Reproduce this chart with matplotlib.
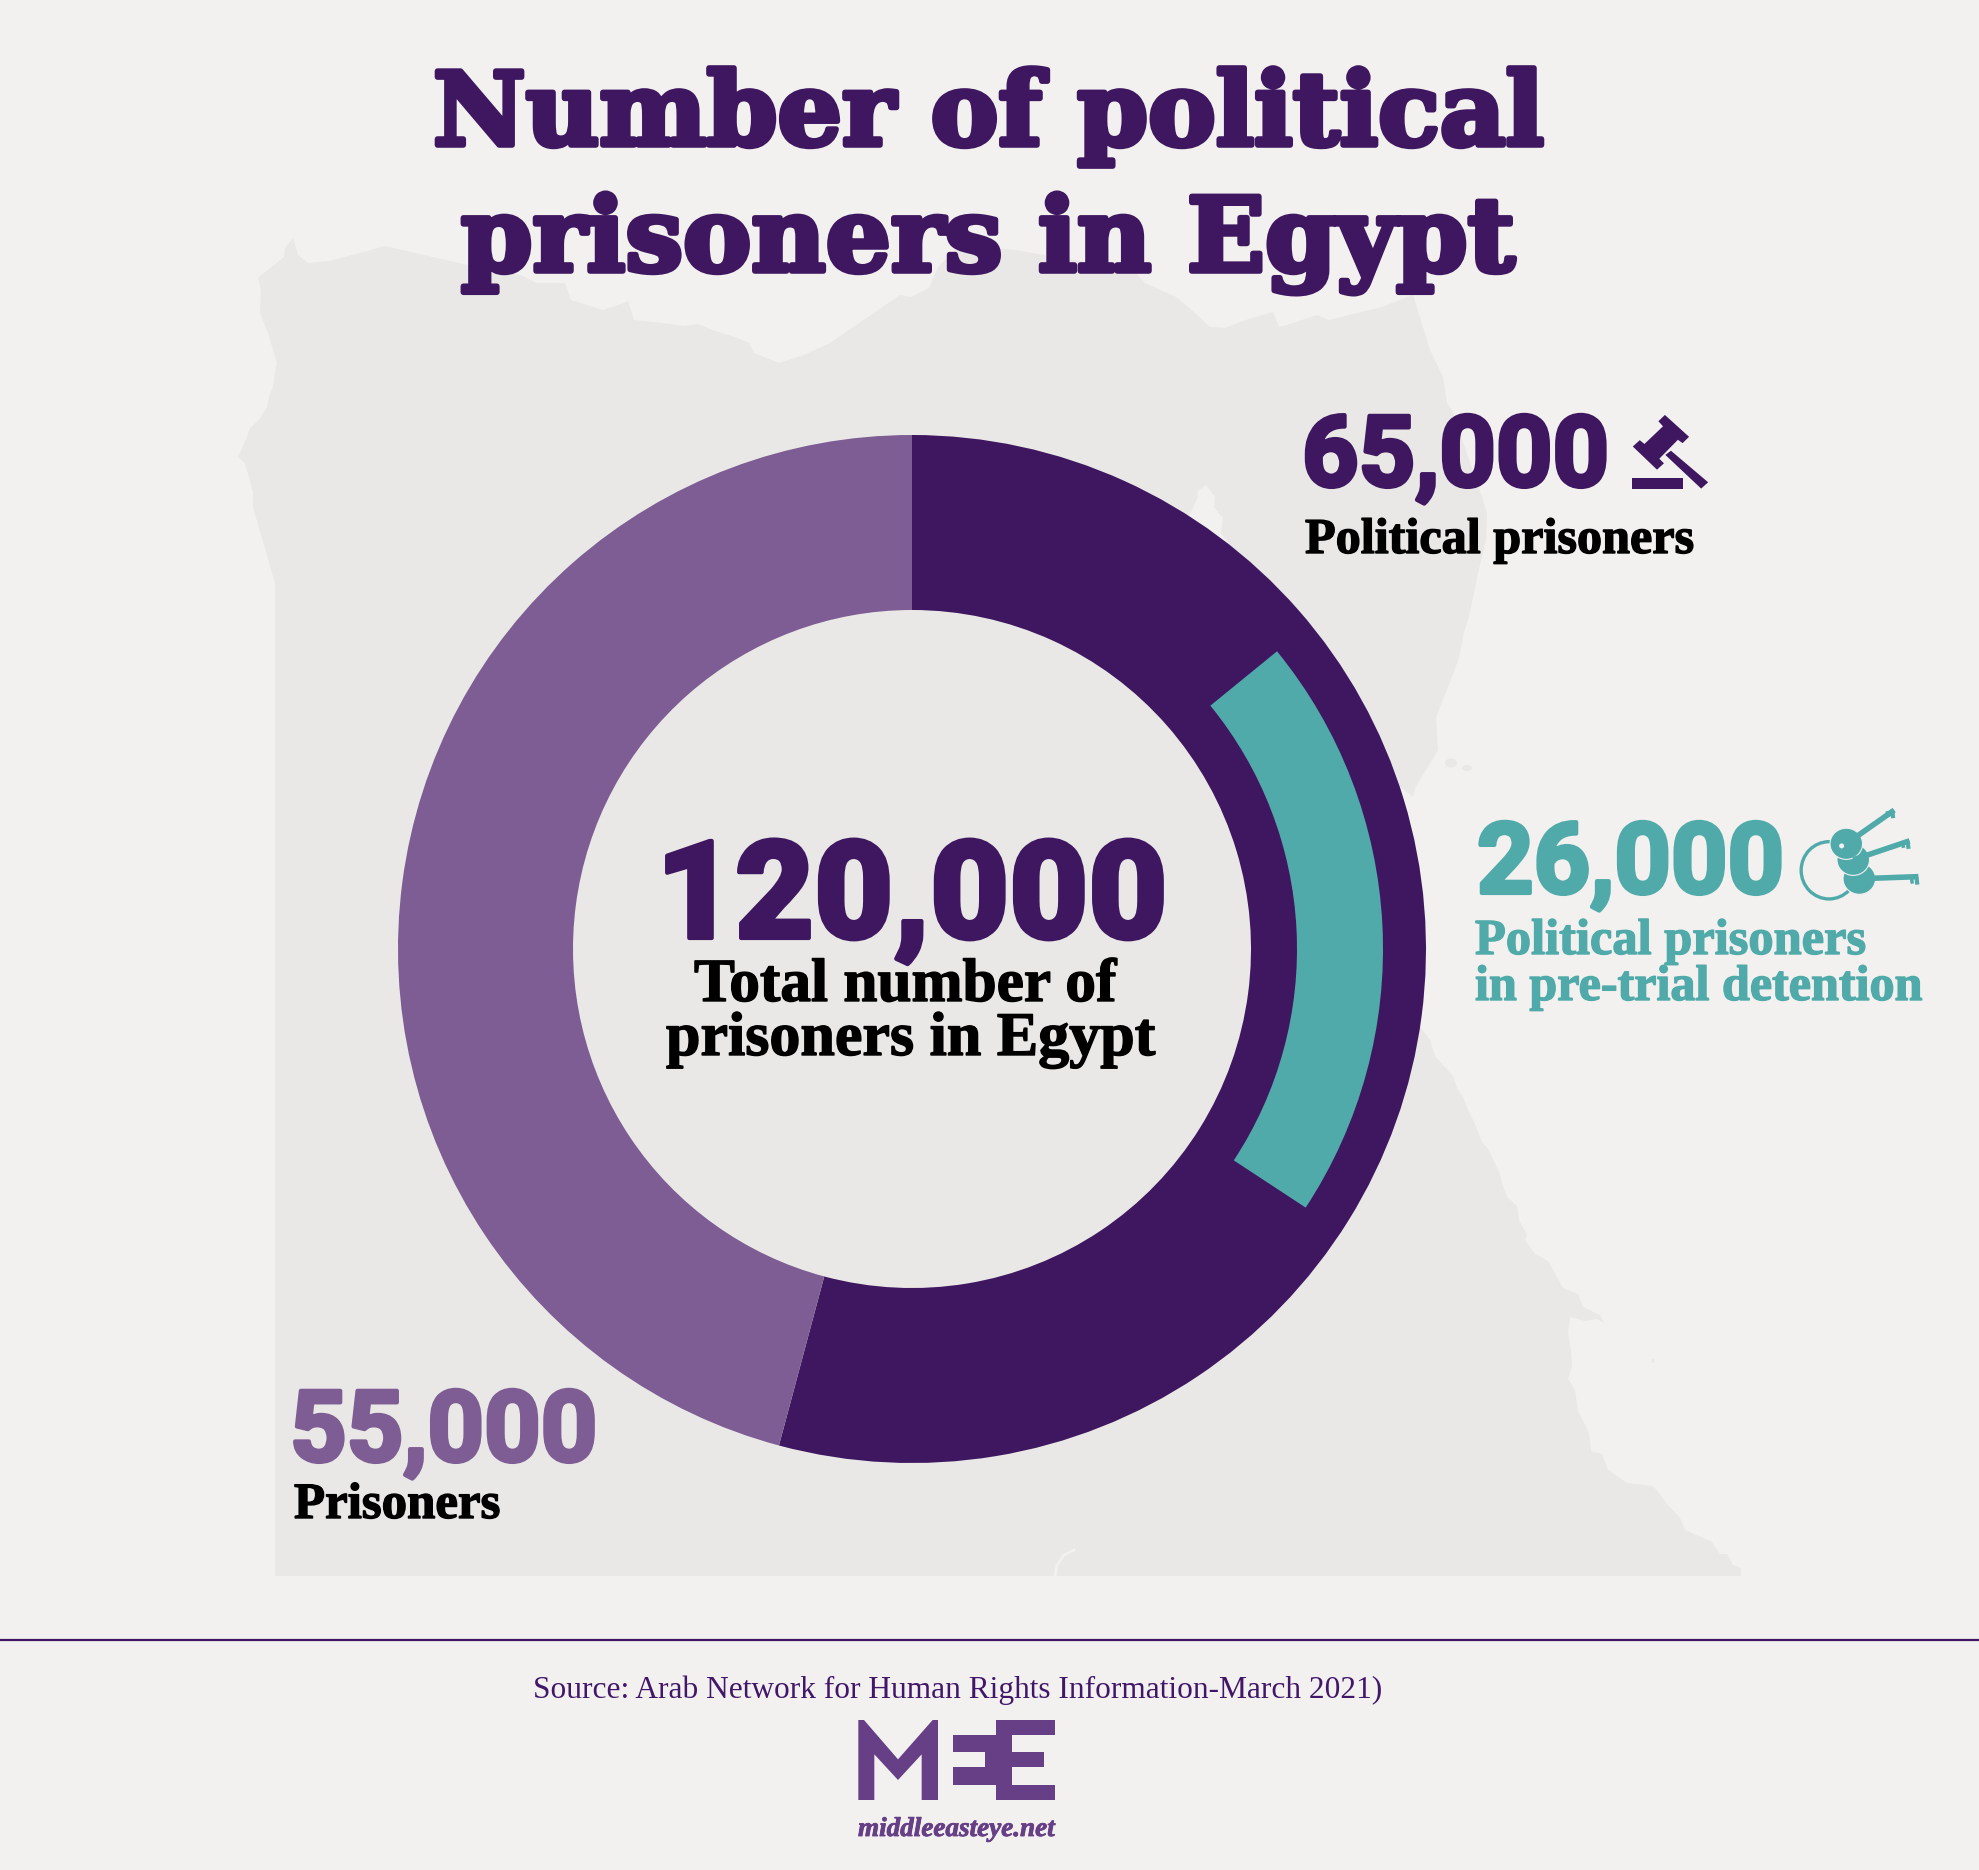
import matplotlib
matplotlib.use('Agg')
import numpy as np
import matplotlib.pyplot as plt
import matplotlib.patheffects as pe
from matplotlib.patches import Polygon, Wedge, Ellipse, Rectangle

W, H = 1979, 1870
BG = '#f2f1ef'
MAP = '#e9e8e6'
PURPLE = '#3f1760'
LILAC = '#7d5d93'
TEAL = '#50aaaa'
LOGO = '#663f86'

# values
ring_labels = ['Political prisoners', 'Prisoners']
ring_values = [65000, 55000]
total = 120000
pretrial = 26000
# where the teal arc sits, degrees clockwise from 12 o'clock
pretrial_start = 50.8
pretrial_end = 123.3

# outline of Egypt in picture pixels
map_outline = [
    (275, 1576), (275, 583), (253, 507), (253, 492), (245, 463), (238, 457), (247, 437), (250, 428), (259, 420),
    (267, 407), (269, 397), (273, 387), (275, 372), (277, 363), (268, 333), (260, 313), (261, 290), (258, 278),
    (284, 257), (285, 248), (293, 238), (298, 255), (308, 263), (329, 261), (360, 253), (385, 246), (437, 258),
    (463, 264), (521, 275), (536, 283), (565, 283), (571, 300), (603, 310), (624, 303), (628, 301), (634, 320),
    (662, 323), (685, 326), (697, 324), (718, 332), (735, 337), (749, 343), (754, 353), (779, 363), (804, 355),
    (830, 343), (900, 295), (911, 297), (929, 288), (938, 267), (960, 245), (1015, 250), (1133, 270), (1145, 283),
    (1176, 297), (1195, 313), (1210, 327), (1225, 328), (1246, 320), (1273, 312), (1279, 327), (1287, 325),
    (1317, 315), (1329, 320), (1382, 307), (1413, 295), (1430, 350), (1443, 377), (1447, 403), (1452, 410),
    (1482, 497), (1487, 513), (1486, 540), (1478, 573), (1474, 593), (1468, 620), (1464, 632), (1459, 658),
    (1448, 687), (1436, 717), (1438, 750), (1415, 788), (1413, 797), (1380, 770), (1325, 700), (1240, 560),
    (1221, 533), (1223, 518), (1214, 507), (1215, 497), (1206, 485), (1197, 492), (1198, 497), (1191, 512),
    (1180, 530), (1300, 800), (1400, 1000), (1430, 1040), (1435, 1056), (1443, 1065), (1453, 1076), (1457, 1088),
    (1463, 1097), (1468, 1110), (1475, 1124), (1482, 1142), (1488, 1149), (1500, 1174), (1502, 1183), (1507, 1197),
    (1517, 1206), (1519, 1220), (1527, 1235), (1525, 1240), (1535, 1254), (1548, 1261), (1563, 1288), (1578, 1294),
    (1583, 1307), (1600, 1315), (1604, 1323), (1597, 1319), (1585, 1321), (1570, 1317), (1568, 1333), (1571, 1351),
    (1572, 1367), (1568, 1379), (1575, 1390), (1578, 1411), (1589, 1433), (1591, 1451), (1602, 1454), (1608, 1470),
    (1627, 1483), (1653, 1486), (1658, 1492), (1667, 1504), (1680, 1518), (1685, 1530), (1703, 1538), (1712, 1542),
    (1720, 1554), (1727, 1554), (1733, 1565), (1741, 1568), (1741, 1576),
]


def zoom1(x, y):
    return 1250 + x / 2.15, 380 + y / 2.376


def zoom3(x, y):
    return 840 + x / 3, 1700 + y / 3


fig = plt.figure(figsize=(W / 100, H / 100), dpi=100, facecolor=BG)

back = fig.add_axes([0, 0, 1, 1], zorder=0)
back.set_xlim(0, W)
back.set_ylim(H, 0)
back.axis('off')
back.add_patch(Polygon(map_outline, closed=True, fc=MAP, ec='none'))
back.add_patch(Ellipse((1451, 763), 12, 9, fc=MAP, ec='none'))
back.add_patch(Ellipse((1467, 768), 10, 6, fc=MAP, ec='none'))
back.add_patch(Ellipse((1653, 1361), 3, 4, fc=MAP, ec='none'))
back.plot([1055, 1057, 1064, 1074], [1576, 1565, 1555, 1550], color=BG, lw=2)
back.plot([1225, 1250, 1273, 1295, 1315], [327, 315, 303, 306, 313], color=BG, lw=1)

# donut
cx, cy, R, r = 912, 949, 514, 339
side = 2 * 1.25 * R
donut = fig.add_axes([(cx - side / 2) / W, (H - cy - side / 2) / H, side / W, side / H], zorder=1)
donut.patch.set_alpha(0)
donut.pie(ring_values, colors=[PURPLE, LILAC], startangle=90, counterclock=False, radius=1,
          wedgeprops={'width': 1 - r / R, 'linewidth': 0})
donut.add_patch(Wedge((0, 0), 471 / R, 90 - pretrial_end, 90 - pretrial_start, width=86 / R, fc=TEAL, ec='none'))

front = fig.add_axes([0, 0, 1, 1], zorder=2)
front.patch.set_alpha(0)
front.set_xlim(0, W)
front.set_ylim(H, 0)
front.axis('off')

renderer = fig.canvas.get_renderer()


def put(s, x0, x1, base, color, family, weight='bold', stroke=0, style='normal'):
    # font size is picked so the string covers the same width as in the reference
    t = front.text(x0, base, s, color=color, family=family, weight=weight, style=style,
                   fontsize=40, ha='left', va='baseline')
    w = t.get_window_extent(renderer).width
    t.set_fontsize(40 * (x1 - x0 - stroke) / w)
    if stroke:
        t.set_path_effects([pe.withStroke(linewidth=stroke, foreground=color)])
    return t


SLAB = ['DejaVu Serif']
LABEL = ['Liberation Serif']
NUM = ['Roboto']

put('Number of political', 433, 1546, 145, PURPLE, SLAB, stroke=4)
put('prisoners in Egypt', 461, 1518, 271, PURPLE, SLAB, stroke=4)

put(f'{total:,}', 656, 1171, 938, PURPLE, NUM, weight='black', stroke=3)
put('Total number of', 694, 1117, 1001, 'black', LABEL, stroke=1)
put('prisoners in Egypt', 666, 1156, 1055, 'black', LABEL, stroke=1)

put(f'{ring_values[0]:,}', 1302, 1612, 486, PURPLE, NUM, stroke=3)
put(ring_labels[0], 1305, 1695, 553, 'black', LABEL, stroke=1)

put(f'{pretrial:,}', 1477, 1787, 893, TEAL, NUM, stroke=3)
put('Political prisoners', 1475, 1867, 954, TEAL, LABEL, stroke=1)
put('in pre-trial detention', 1475, 1923, 1000, TEAL, LABEL, stroke=1)

put(f'{ring_values[1]:,}', 290, 600, 1461, LILAC, NUM, stroke=3)
put(ring_labels[1], 294, 501, 1518, 'black', LABEL, stroke=1)

# footer
front.plot([0, W], [1640, 1640], color=PURPLE, lw=1.6, solid_capstyle='butt')
put('Source: Arab Network for Human Rights Information-March 2021)', 533, 1381, 1698, '#42176a', LABEL,
    weight='normal')
put('middleeasteye.net', 858, 1055, 1836, LOGO, LABEL, style='italic', stroke=0.6)

# gavel
front.add_patch(Rectangle(zoom1(822, 232), 110 / 2.15, 26 / 2.376, fc=PURPLE, ec='none'))
gavel_head = [(878, 98), (892, 83), (944, 135), (930, 150), (920, 142), (880, 187), (890, 198), (875, 213), (823, 158),
              (838, 143), (848, 152), (888, 110)]
front.add_patch(Polygon([zoom1(*p) for p in gavel_head], closed=True, fc=PURPLE, ec='none'))
gavel_handle = [(905, 168), (985, 243), (970, 258), (893, 178)]
front.add_patch(Polygon([zoom1(*p) for p in gavel_handle], closed=True, fc=PURPLE, ec='none'))

# keys, bottom one first so the top head ends up in front
kx, ky = zoom1(1245, 1165)
front.add_patch(Ellipse((kx, ky), 2 * 60 / 2.15, 2 * 68 / 2.376, fc='none', ec=TEAL, lw=2.4))
for hx, hy, ex, ey in [(1310, 1185, 1437, 1180), (1297, 1140, 1418, 1095), (1282, 1102, 1385, 1022)]:
    px, py = zoom1(hx, hy)
    qx, qy = zoom1(ex, ey)
    front.add_patch(Ellipse((px, py), 70 / 2.15, 74 / 2.376, fc=TEAL, ec=BG, lw=0.8))
    front.plot([px, qx], [py, qy], color=TEAL, lw=4, solid_capstyle='butt')
    front.plot([qx - 2, qx - 1], [qy, qy + 8], color=TEAL, lw=3, solid_capstyle='butt')
    front.plot([qx - 7, qx - 6], [qy + 1, qy + 7], color=TEAL, lw=2.5, solid_capstyle='butt')
hole_x, hole_y = zoom1(1272, 1107)
front.add_patch(Ellipse((hole_x, hole_y), 5, 5, fc=BG, ec='none'))

# MEE logo
logo_m = [(55, 60), (72, 60), (174, 178), (278, 60), (294, 60), (294, 300), (245, 300), (245, 163), (174, 240),
          (103, 163), (103, 300), (55, 300)]
logo_ee = [(468, 60), (644, 60), (644, 106), (516, 106), (516, 156), (612, 156), (612, 202), (516, 202), (516, 255),
           (644, 255), (644, 300), (468, 300), (468, 255), (340, 255), (340, 202), (436, 202), (436, 157), (340, 157),
           (340, 105), (468, 105)]
front.add_patch(Polygon([zoom3(*p) for p in logo_m], closed=True, fc=LOGO, ec='none'))
front.add_patch(Polygon([zoom3(*p) for p in logo_ee], closed=True, fc=LOGO, ec='none'))

fig.savefig('out.png', dpi=100, facecolor=BG)
